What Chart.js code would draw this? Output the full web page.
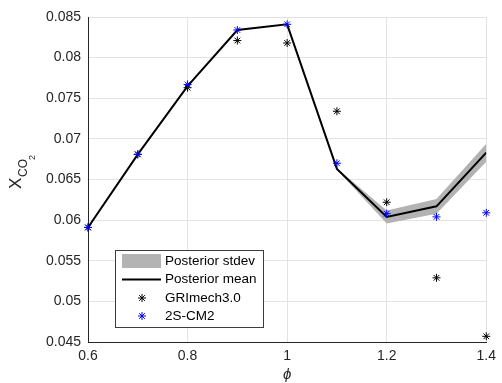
<!DOCTYPE html>
<html>
<head>
<meta charset="utf-8">
<script src="https://cdn.jsdelivr.net/npm/chart.js@4"></script>
<style>
  body { margin: 0; background: #fff; }
  #wrap { width: 502px; height: 383px; position: relative; }
</style>
</head>
<body>
<div id="wrap"><canvas id="co2Chart"></canvas></div>
<script>
// values
const phi = [0.6, 0.7, 0.8, 0.9, 1.0, 1.1, 1.2, 1.3, 1.4];
const postMean = [0.0591, 0.0681, 0.0765, 0.0834, 0.0841, 0.0663, 0.0604, 0.0617, 0.0683];
const postStd = [0, 0, 0, 0, 0, 0.0001, 0.0008, 0.0009, 0.0011];
const griMech = [0.0591, 0.0681, 0.0763, 0.0821, 0.0818, 0.0734, 0.0622, 0.0529, 0.0457];
const twoSCM2 = [0.0591, 0.0681, 0.0767, 0.0834, 0.0841, 0.0670, 0.0608, 0.0604, 0.0609];
const xTicks = ['0.6', '0.8', '1', '1.2', '1.4'];
const yTicks = ['0.045', '0.05', '0.055', '0.06', '0.065', '0.07', '0.075', '0.08', '0.085'];

const FONT = '"Liberation Sans", Arial, Helvetica, sans-serif';
const TXT = '#262626';

function pts(ys) {
    return phi.map((x, i) => ({ x: x, y: ys[i] }));
}

const lower = postMean.map((m, i) => m - postStd[i]);
const upper = postMean.map((m, i) => m + postStd[i]);

// axis labels + legend drawn on top
const extras = {
    id: 'extras',
    afterDraw(chart) {
        const ctx = chart.ctx;
        const area = chart.chartArea;
        ctx.save();
        ctx.fillStyle = TXT;
        // x label
        ctx.font = 'italic 15px ' + FONT;
        ctx.textAlign = 'center';
        ctx.textBaseline = 'middle';
        ctx.fillText('\u03D5', (area.left + area.right) / 2, 375);

        // y label X_{CO_2}
        ctx.save();
        ctx.translate(16, 183);
        ctx.rotate(-Math.PI / 2);
        ctx.textAlign = 'left';
        ctx.textBaseline = 'middle';
        ctx.font = '17px ' + FONT;
        ctx.fillText('X', -6, 0);
        ctx.font = '12px ' + FONT;
        ctx.fillText('CO', 6, 8);
        ctx.font = '9px ' + FONT;
        ctx.fillText('2', 23, 17);
        ctx.restore();

        // legend
        const lx = 115, ly = 250, lw = 148, lh = 77;
        ctx.fillStyle = '#fff';
        ctx.fillRect(lx, ly, lw, lh);
        ctx.strokeStyle = '#3c3c3c';
        ctx.lineWidth = 1;
        ctx.strokeRect(lx + 0.5, ly + 0.5, lw, lh);

        const rows = [261, 279.5, 298, 316];
        ctx.fillStyle = '#b3b3b3';
        ctx.fillRect(122, 254, 39, 14);
        ctx.strokeStyle = '#000';
        ctx.lineWidth = 2;
        ctx.beginPath();
        ctx.moveTo(122, rows[1]);
        ctx.lineTo(161, rows[1]);
        ctx.stroke();
        ctx.lineWidth = 1;
        Chart.helpers.drawPoint(ctx, { pointStyle: 'star', radius: 4, borderWidth: 1 }, 142, rows[2]);
        ctx.strokeStyle = '#0000ff';
        Chart.helpers.drawPoint(ctx, { pointStyle: 'star', radius: 4, borderWidth: 1 }, 142, rows[3]);

        ctx.fillStyle = '#000';
        ctx.font = '13.5px ' + FONT;
        ctx.textAlign = 'left';
        ctx.textBaseline = 'middle';
        ['Posterior stdev', 'Posterior mean', 'GRImech3.0', '2S-CM2'].forEach((t, i) => {
            ctx.fillText(t, 165, rows[i]);
        });
        ctx.restore();
    }
};

const ctx = document.getElementById('co2Chart').getContext('2d');
new Chart(ctx, {
    type: 'line',
    data: {
        datasets: [
            {
                label: 'lower',
                data: pts(lower),
                borderWidth: 0,
                pointRadius: 0,
                fill: false,
                order: 5
            },
            {
                label: 'Posterior stdev',
                data: pts(upper),
                borderWidth: 0,
                pointRadius: 0,
                backgroundColor: '#b3b3b3',
                fill: '-1',
                order: 4
            },
            {
                label: 'Posterior mean',
                data: pts(postMean),
                borderColor: '#000',
                borderWidth: 2,
                pointRadius: 0,
                fill: false,
                order: 3
            },
            {
                label: 'GRImech3.0',
                data: pts(griMech),
                showLine: false,
                pointStyle: 'star',
                pointRadius: 4,
                pointBorderWidth: 1,
                pointBorderColor: '#000',
                clip: false,
                order: 2
            },
            {
                label: '2S-CM2',
                data: pts(twoSCM2),
                showLine: false,
                pointStyle: 'star',
                pointRadius: 4,
                pointBorderWidth: 1,
                pointBorderColor: '#0000ff',
                clip: false,
                order: 1
            }
        ]
    },
    options: {
        responsive: true,
        maintainAspectRatio: false,
        animation: false,
        layout: { padding: { top: 17, right: 13, left: 0, bottom: 0 } },
        plugins: { legend: { display: false }, tooltip: { enabled: false } },
        scales: {
            x: {
                type: 'linear',
                min: 0.6,
                max: 1.4,
                afterBuildTicks: s => { s.ticks = xTicks.map(t => ({ value: parseFloat(t) })); },
                afterFit: s => { s.height = 41; },
                ticks: {
                    callback: (v) => xTicks.find(t => Math.abs(parseFloat(t) - v) < 1e-9),
                    color: TXT,
                    font: { family: FONT, size: 14 },
                    padding: 6,
                    maxRotation: 0
                },
                grid: { color: '#e3e3e3', drawTicks: false },
                border: { color: TXT, width: 1 }
            },
            y: {
                min: 0.045,
                max: 0.085,
                afterBuildTicks: s => { s.ticks = yTicks.map(t => ({ value: parseFloat(t) })); },
                afterFit: s => { s.width = 88; },
                ticks: {
                    callback: (v) => yTicks.find(t => Math.abs(parseFloat(t) - v) < 1e-9),
                    color: TXT,
                    font: { family: FONT, size: 14 },
                    padding: 7
                },
                grid: { color: '#e3e3e3', drawTicks: false },
                border: { color: TXT, width: 1 }
            }
        }
    },
    plugins: [extras]
});
</script>
</body>
</html>
